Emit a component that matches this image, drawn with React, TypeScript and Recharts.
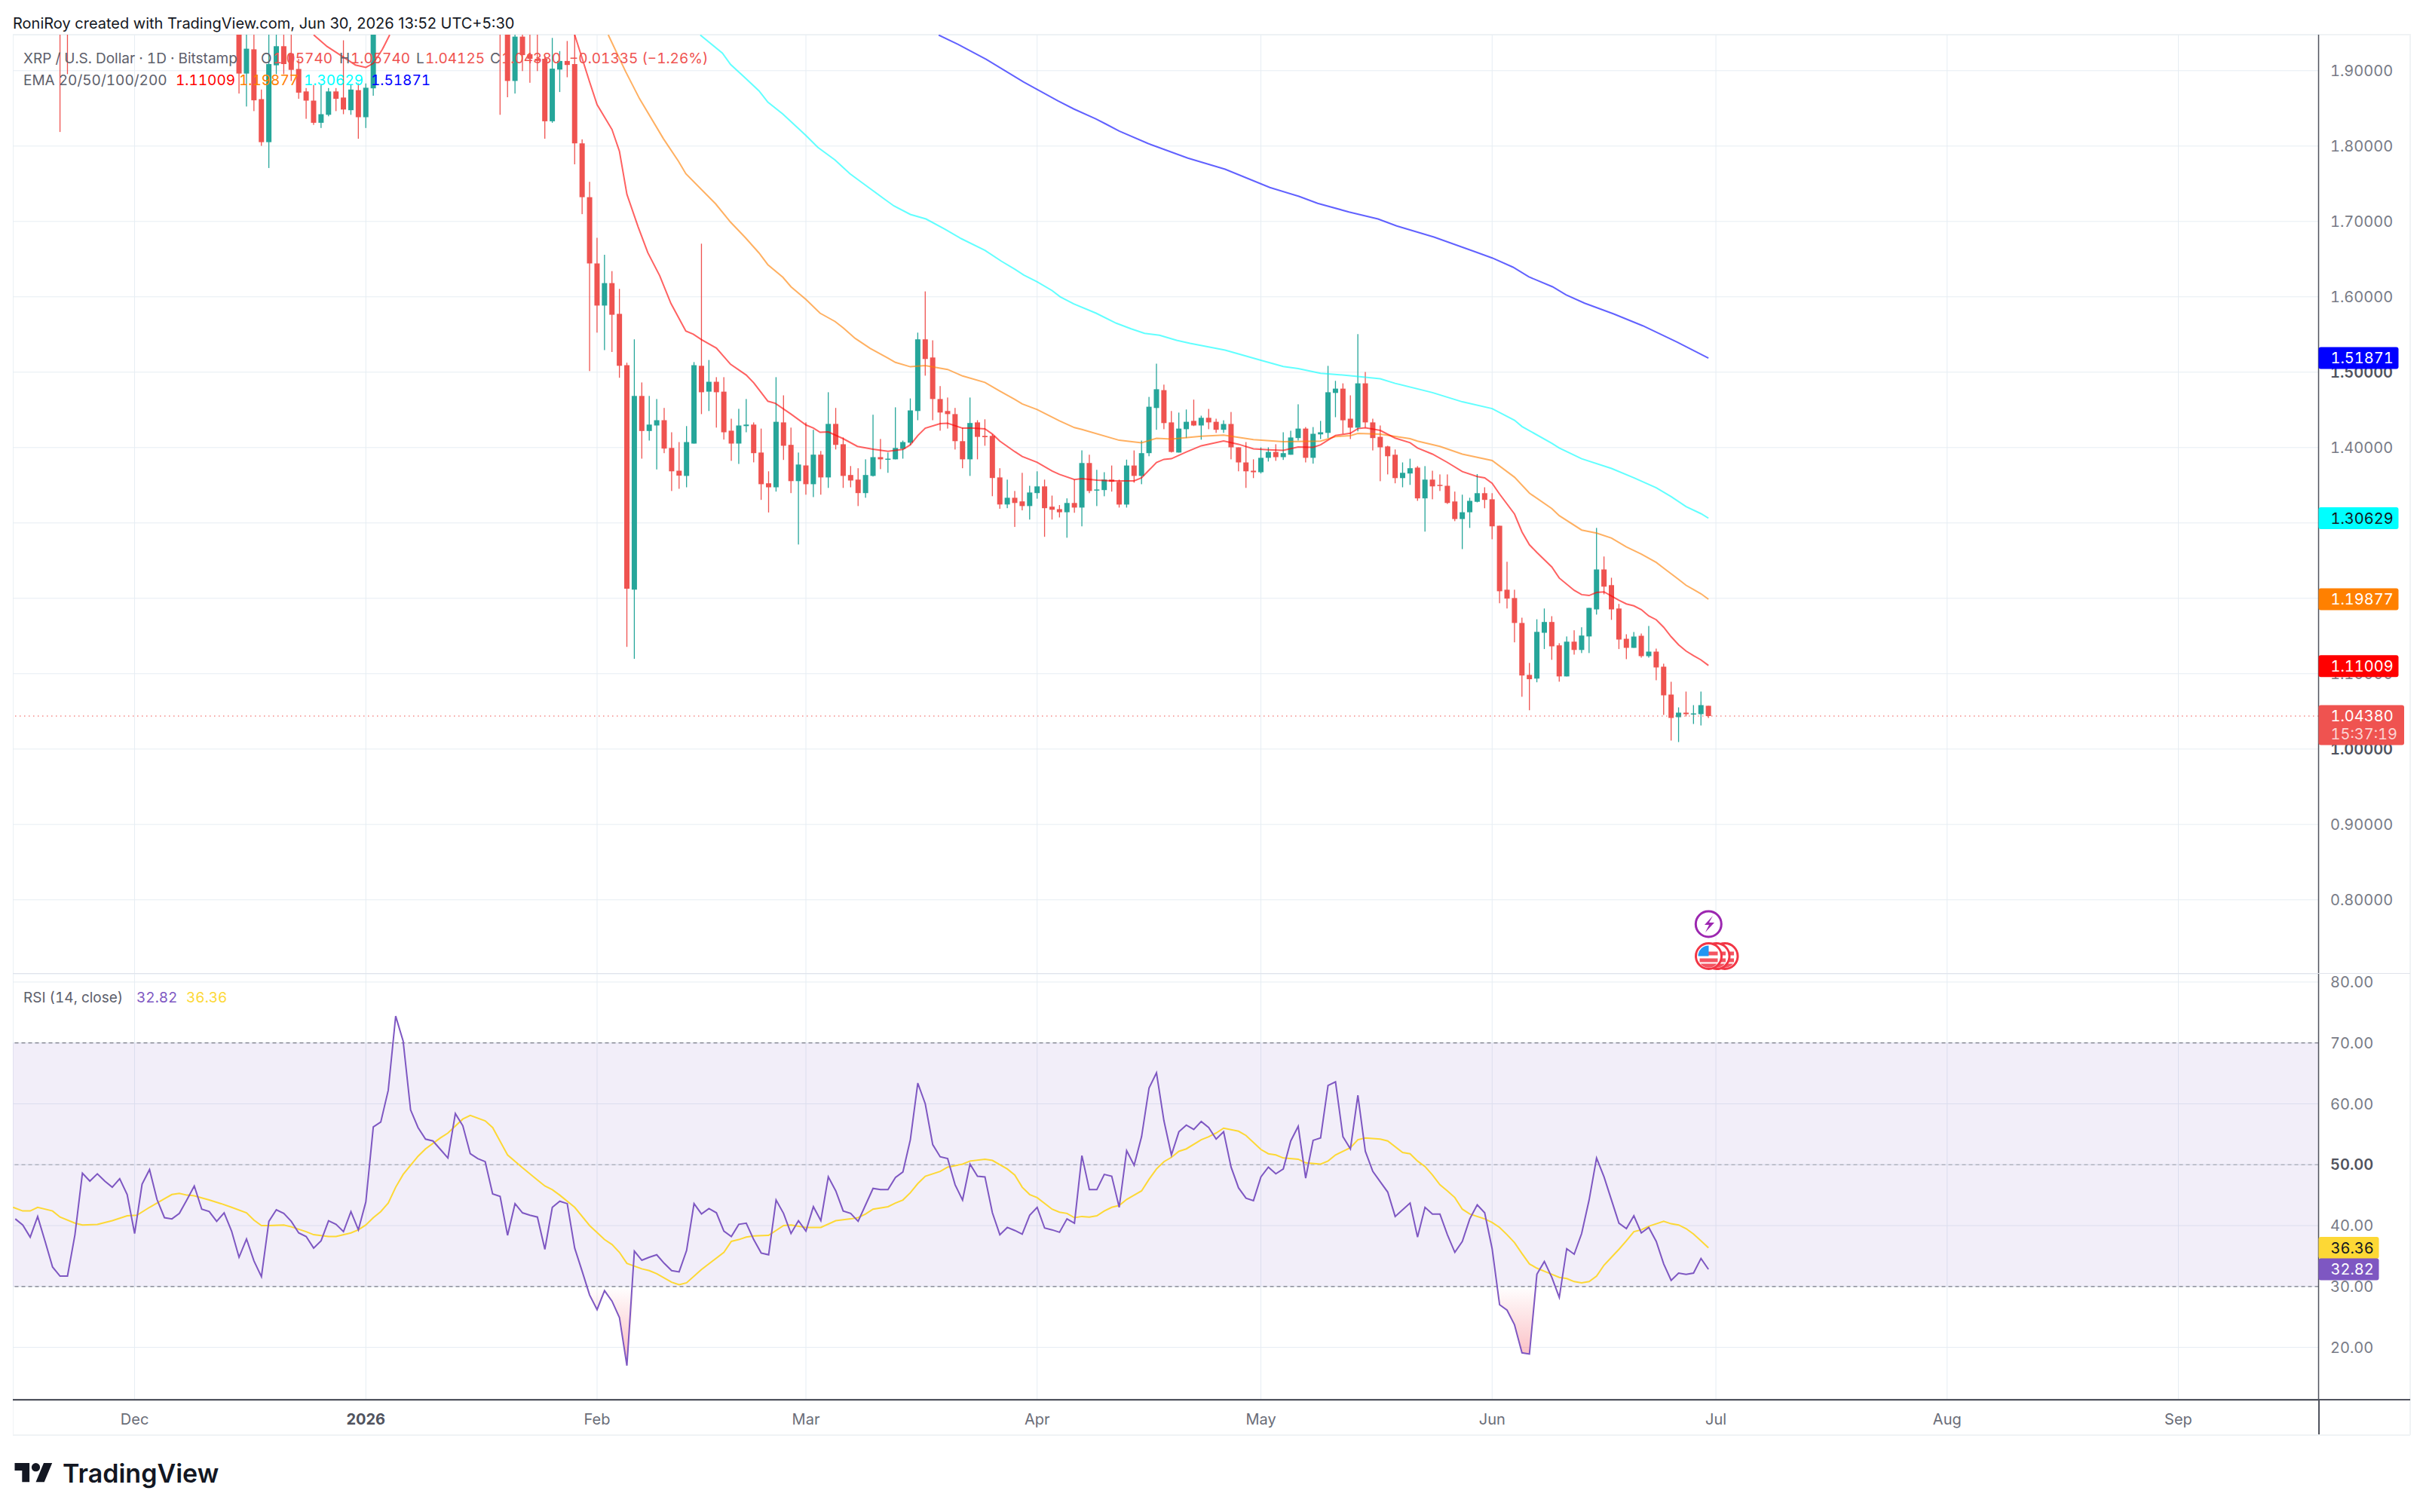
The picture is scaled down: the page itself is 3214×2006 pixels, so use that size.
import React from "react";
import {
  ComposedChart, Bar, Line, Area, XAxis, YAxis, CartesianGrid,
  ReferenceLine, ReferenceArea, ReferenceDot,
} from "recharts";

// day = days since 1 Jan 2026. rows: [day, open, high, low, close]
const barsNovDec = [
  [-41, 2.03, 2.05, 1.8187, 2.0], [-40, 2.03, 2.05, 1.8954, 2.0],
  [-17, 1.96, 2.0, 1.8697, 1.8962], [-16, 1.8962, 2.0, 1.8525, 1.9292], [-15, 1.9284, 1.97, 1.8464, 1.8607],
  [-14, 1.8623, 1.875, 1.8003, 1.8052], [-13, 1.8052, 1.96, 1.7709, 1.9088], [-12, 1.9072, 1.96, 1.8954, 1.9325],
  [-11, 1.9325, 1.96, 1.8954, 1.9088], [-10, 1.9227, 1.96, 1.8864, 1.9011], [-9, 1.9023, 1.9158, 1.8627, 1.8709],
  [-8, 1.8725, 1.877, 1.8362, 1.8603], [-7, 1.8603, 1.8811, 1.8281, 1.8309], [-6, 1.8309, 1.8811, 1.824, 1.8423],
  [-5, 1.8415, 1.877, 1.8395, 1.8725], [-4, 1.8725, 1.877, 1.8464, 1.8627], [-3, 1.8644, 1.9403, 1.8423, 1.8485],
  [-2, 1.8476, 1.8811, 1.8415, 1.875], [-1, 1.8742, 1.8831, 1.8097, 1.8383],
];
const barsJanuary = [
  [0, 1.8383, 1.8831, 1.824, 1.8774], [1, 1.8766, 2.02, 1.8668, 2.0],
  [18, 2.03, 2.05, 1.8415, 1.97], [19, 2.0, 2.02, 1.8648, 1.8864], [20, 1.8864, 1.96, 1.8697, 1.9452],
  [21, 1.9452, 1.97, 1.8995, 1.9207], [22, 1.9219, 1.96, 1.884, 1.9158], [23, 1.9158, 1.96, 1.8995, 1.913],
  [24, 1.9158, 1.92, 1.8097, 1.8329], [25, 1.8329, 1.9435, 1.8309, 1.9027], [26, 1.9015, 1.926, 1.8717, 1.9129],
  [27, 1.9129, 1.9394, 1.8913, 1.9076], [28, 1.9088, 1.96, 1.7758, 1.8036], [29, 1.8036, 1.8089, 1.7097, 1.7322],
  [30, 1.7322, 1.7526, 1.5015, 1.6443],
];
const barsFebruary = [
  [31, 1.6443, 1.6783, 1.5525, 1.5884], [32, 1.5884, 1.6558, 1.5293, 1.6182], [33, 1.6182, 1.6341, 1.5268, 1.5762],
  [34, 1.5774, 1.6105, 1.4926, 1.5085], [35, 1.5093, 1.5126, 1.1356, 1.2127], [36, 1.2115, 1.5436, 1.1197, 1.4685],
  [37, 1.4685, 1.4864, 1.3853, 1.422], [38, 1.422, 1.4685, 1.4093, 1.4305], [39, 1.4293, 1.4644, 1.371, 1.4363],
  [40, 1.4363, 1.4526, 1.3926, 1.3987], [41, 1.3995, 1.4203, 1.3424, 1.3685], [42, 1.3693, 1.4073, 1.3453, 1.3628],
  [43, 1.3624, 1.4285, 1.3473, 1.4073], [44, 1.4053, 1.5134, 1.4053, 1.5093], [45, 1.5085, 1.6705, 1.4444, 1.4734],
  [46, 1.4742, 1.5162, 1.4485, 1.4873], [47, 1.4873, 1.4934, 1.4265, 1.4734], [48, 1.4742, 1.4934, 1.4106, 1.4203],
  [49, 1.4224, 1.4383, 1.3824, 1.4053], [50, 1.4053, 1.4514, 1.3783, 1.4293], [51, 1.4285, 1.4644, 1.4203, 1.4305],
  [52, 1.4305, 1.4334, 1.3804, 1.3926], [53, 1.3934, 1.4252, 1.3306, 1.3514], [54, 1.3526, 1.3685, 1.3139, 1.3473],
  [55, 1.3473, 1.4934, 1.3416, 1.4342], [56, 1.4334, 1.4693, 1.3836, 1.4024], [57, 1.4036, 1.4265, 1.3396, 1.3555],
  [58, 1.3555, 1.3934, 1.2714, 1.3775],
];
const barsMarch = [
  [59, 1.3763, 1.4334, 1.3375, 1.3514], [60, 1.3514, 1.4236, 1.3343, 1.3906], [61, 1.3906, 1.3955, 1.3375, 1.3604],
  [62, 1.3604, 1.4734, 1.3465, 1.4314], [63, 1.4314, 1.4526, 1.3975, 1.4036], [64, 1.4044, 1.4134, 1.3465, 1.3624],
  [65, 1.3636, 1.3755, 1.3473, 1.3563], [66, 1.3575, 1.3726, 1.3224, 1.3396], [67, 1.3396, 1.3844, 1.3334, 1.3636],
  [68, 1.3624, 1.4436, 1.3616, 1.3873], [69, 1.3873, 1.4114, 1.3714, 1.3844], [70, 1.3844, 1.3934, 1.3665, 1.3853],
  [71, 1.3844, 1.4534, 1.3844, 1.3995], [72, 1.3983, 1.4093, 1.3853, 1.4073], [73, 1.4065, 1.4652, 1.4036, 1.4493],
  [74, 1.4485, 1.5525, 1.4363, 1.5436], [75, 1.5436, 1.6072, 1.4954, 1.5175], [76, 1.5195, 1.5423, 1.4363, 1.4644],
  [77, 1.4644, 1.4816, 1.4224, 1.4465], [78, 1.4485, 1.4664, 1.4252, 1.4444], [79, 1.4444, 1.4526, 1.3974, 1.4085],
  [80, 1.4085, 1.4265, 1.3726, 1.3844], [81, 1.3844, 1.4664, 1.3624, 1.4326], [82, 1.4334, 1.4363, 1.3844, 1.4142],
  [83, 1.4155, 1.4375, 1.4024, 1.4138], [84, 1.4155, 1.4175, 1.3355, 1.3596], [85, 1.3604, 1.3726, 1.3188, 1.3245],
  [86, 1.3245, 1.3575, 1.3196, 1.3334], [87, 1.3334, 1.3424, 1.2947, 1.3265], [88, 1.3286, 1.3665, 1.3167, 1.3224],
  [89, 1.3224, 1.3493, 1.3045, 1.3404],
];
const barsApril = [
  [90, 1.3396, 1.3685, 1.3322, 1.3485], [91, 1.3485, 1.3575, 1.2816, 1.3196], [92, 1.3216, 1.3363, 1.3045, 1.3175],
  [93, 1.3183, 1.3237, 1.3073, 1.3142], [94, 1.3142, 1.3326, 1.2804, 1.3265], [95, 1.3265, 1.3575, 1.3135, 1.3204],
  [96, 1.3204, 1.3963, 1.2955, 1.3795], [97, 1.3795, 1.3905, 1.3395, 1.3424], [98, 1.344, 1.3705, 1.3224, 1.3444],
  [99, 1.3436, 1.3673, 1.3354, 1.3575], [100, 1.3575, 1.3762, 1.3416, 1.3546], [101, 1.3546, 1.3575, 1.3204, 1.3244],
  [102, 1.3244, 1.384, 1.3204, 1.3762], [103, 1.3762, 1.3962, 1.3534, 1.3624], [104, 1.3624, 1.4093, 1.3514, 1.3926],
  [105, 1.3926, 1.4672, 1.3885, 1.4542], [106, 1.4525, 1.5113, 1.4236, 1.4774], [107, 1.4762, 1.4835, 1.4244, 1.4325],
  [108, 1.4334, 1.4485, 1.3934, 1.3942], [109, 1.3934, 1.4464, 1.3934, 1.4252], [110, 1.4244, 1.4505, 1.4126, 1.4342],
  [111, 1.4354, 1.4636, 1.4285, 1.4293], [112, 1.4293, 1.4423, 1.4105, 1.4395], [113, 1.4395, 1.4513, 1.4244, 1.4334],
  [114, 1.4342, 1.4383, 1.4195, 1.4236], [115, 1.4236, 1.4362, 1.4195, 1.4313], [116, 1.4313, 1.4472, 1.3844, 1.4003],
  [117, 1.4003, 1.4003, 1.3685, 1.3803], [118, 1.3803, 1.4073, 1.3465, 1.3685], [119, 1.3693, 1.3844, 1.3595, 1.3673],
];
const barsMay = [
  [120, 1.3673, 1.4003, 1.3656, 1.3864], [121, 1.3864, 1.4003, 1.3815, 1.3942], [122, 1.3942, 1.4044, 1.3824, 1.3873],
  [123, 1.3873, 1.4203, 1.3836, 1.3926], [124, 1.3905, 1.4223, 1.3905, 1.4134], [125, 1.4126, 1.4574, 1.4093, 1.4252],
  [126, 1.4252, 1.4272, 1.3803, 1.3864], [127, 1.3864, 1.4272, 1.3787, 1.4183], [128, 1.4175, 1.4354, 1.4113, 1.4203],
  [129, 1.4195, 1.5084, 1.4126, 1.4734], [130, 1.4725, 1.4885, 1.4403, 1.4782], [131, 1.4782, 1.4852, 1.4183, 1.4362],
  [132, 1.4383, 1.4693, 1.4113, 1.4264], [133, 1.4264, 1.5505, 1.4215, 1.4852], [134, 1.4852, 1.5003, 1.4264, 1.4334],
  [135, 1.4334, 1.4383, 1.3962, 1.4126], [136, 1.4142, 1.4293, 1.3554, 1.4003], [137, 1.4015, 1.4024, 1.3644, 1.3885],
  [138, 1.3905, 1.3975, 1.3526, 1.3595], [139, 1.3595, 1.3803, 1.3473, 1.3665], [140, 1.3656, 1.3852, 1.3505, 1.3726],
  [141, 1.3734, 1.3754, 1.3293, 1.3326], [142, 1.3326, 1.3754, 1.2885, 1.3575], [143, 1.3575, 1.3693, 1.3314, 1.3485],
  [144, 1.3505, 1.3644, 1.3424, 1.3493], [145, 1.3493, 1.3644, 1.3252, 1.3265], [146, 1.3285, 1.3416, 1.3024, 1.3052],
  [147, 1.3052, 1.3375, 1.2653, 1.3142], [148, 1.3142, 1.3334, 1.2934, 1.3293], [149, 1.3281, 1.3648, 1.3273, 1.3395],
  [150, 1.3395, 1.3473, 1.3195, 1.3306],
];
const barsJune = [
  [151, 1.3314, 1.3395, 1.2783, 1.2955], [152, 1.2963, 1.2963, 1.1935, 1.2094], [153, 1.2114, 1.2485, 1.1865, 1.1996],
  [154, 1.2004, 1.2114, 1.1416, 1.1673], [155, 1.1673, 1.1743, 1.0694, 1.0976], [156, 1.0984, 1.1143, 1.0515, 1.0927],
  [157, 1.0935, 1.1722, 1.0886, 1.1555], [158, 1.1543, 1.1865, 1.1327, 1.1686], [159, 1.1686, 1.1763, 1.1184, 1.1363],
  [160, 1.1376, 1.1404, 1.0894, 1.0964], [161, 1.0964, 1.1494, 1.0964, 1.1425], [162, 1.1425, 1.1576, 1.1253, 1.1315],
  [163, 1.1315, 1.1616, 1.1274, 1.1506], [164, 1.1494, 1.1873, 1.1274, 1.1873], [165, 1.1853, 1.2934, 1.1784, 1.2383],
  [166, 1.2383, 1.2555, 1.2053, 1.2155], [167, 1.2175, 1.2273, 1.1714, 1.1853], [168, 1.1865, 1.1926, 1.1327, 1.1453],
  [169, 1.1463, 1.1523, 1.1193, 1.1343], [170, 1.1343, 1.1553, 1.1343, 1.1493], [171, 1.1503, 1.1533, 1.1213, 1.1233],
  [172, 1.1233, 1.1633, 1.1213, 1.1293], [173, 1.1293, 1.1333, 1.0913, 1.1083], [174, 1.1093, 1.1133, 1.0453, 1.0713],
  [175, 1.0723, 1.0893, 1.0113, 1.0413], [176, 1.0423, 1.0553, 1.0093, 1.0483], [177, 1.0483, 1.0763, 1.0433, 1.0463],
  [178, 1.0463, 1.0583, 1.0333, 1.0473], [179, 1.0463, 1.0763, 1.0313, 1.0583], [180, 1.0574, 1.0574, 1.04125, 1.0438],
];

// moving averages: [day, value]; null where the line is above the pane
const ema20Points = [
  [-7, 1.9476], [-5.2, 1.9321], [-3.3, 1.9199], [-1.4, 1.9076], [0, 1.9044], [1, 1.9097], [2.2, 1.928], [3.2, 1.9476], [15, null],
  [28, 1.9476], [30, 1.885], [31, 1.855], [33, 1.822], [34, 1.793], [35, 1.736], [36.5, 1.693], [37.8, 1.6586], [39.4, 1.628], [40.9, 1.5913],
  [42.9, 1.5546], [43.9, 1.5505], [45, 1.5432], [47, 1.532], [48.9, 1.5105], [51, 1.4962], [52, 1.486], [53.9, 1.4615], [54.9, 1.4587],
  [57, 1.4444], [59, 1.43], [60, 1.426], [60.9, 1.4203], [62, 1.4207], [64, 1.4118], [65.9, 1.4016], [68, 1.3979], [70, 1.395], [72, 1.3975],
  [73, 1.4036], [74, 1.4159], [75, 1.4257], [77, 1.4318], [78, 1.4322], [80, 1.4257], [81, 1.4261], [83, 1.4248], [84, 1.4179], [85, 1.4085],
  [87, 1.3946], [88, 1.3881], [90, 1.3804], [92, 1.3689], [93, 1.3644], [95, 1.3575], [96, 1.3587], [98, 1.3567], [100, 1.3558], [103, 1.3558],
  [104, 1.3599], [106, 1.3803], [107, 1.3844], [108, 1.3852], [110, 1.3942], [112, 1.4024], [115, 1.4089], [117, 1.4044], [119, 1.3983],
  [121, 1.3971], [123, 1.3962], [125, 1.4007], [127, 1.4003], [128, 1.4036], [130, 1.4162], [132, 1.419], [133, 1.4252], [134, 1.4264],
  [136, 1.4228], [138, 1.4126], [140, 1.4064], [141, 1.3995], [143, 1.3913], [145, 1.3803], [147, 1.3681], [149, 1.3615], [150, 1.3599],
  [151, 1.3526], [152, 1.3383], [154, 1.3118], [155, 1.2881], [156, 1.271], [157, 1.2608], [159, 1.2416], [160, 1.2269], [162, 1.2106],
  [163, 1.2049], [164, 1.2037], [165, 1.2077], [166, 1.2086], [168, 1.1975], [169, 1.1926], [170, 1.19], [171, 1.185], [172, 1.1766],
  [173, 1.1716], [174, 1.1616], [175, 1.149], [176, 1.1383], [177, 1.13], [178, 1.124], [179, 1.1183], [180, 1.1109],
];
const ema50Points = [
  [32.5, 1.9476], [34.8, 1.8994], [36.7, 1.8627], [39.9, 1.8097], [41.9, 1.78], [42.9, 1.7633], [46.9, 1.7233], [48.9, 1.699], [50.9, 1.6783],
  [52.7, 1.6583], [53.9, 1.6426], [55.9, 1.626], [57, 1.6133], [59, 1.5966], [60.9, 1.5783], [62.9, 1.5673], [64, 1.5589], [65.6, 1.5449],
  [67.6, 1.5316], [70, 1.5187], [71, 1.513], [73, 1.5072], [75, 1.5089], [78, 1.5036], [80, 1.495], [83, 1.4864], [85, 1.475], [87, 1.464],
  [88, 1.4579], [90, 1.4505], [93, 1.4354], [95, 1.4265], [96, 1.424], [101, 1.4097], [104, 1.4064], [106, 1.4122], [108, 1.4113], [112, 1.415],
  [115, 1.4166], [119, 1.4105], [123, 1.4077], [128, 1.4085], [130, 1.4146], [132, 1.4158], [133, 1.4187], [136, 1.4179], [140, 1.4117],
  [141, 1.4085], [144, 1.4015], [147, 1.3913], [151, 1.3828], [154, 1.3607], [156, 1.3395], [159, 1.3191], [160, 1.3097], [163, 1.2906],
  [165, 1.2865], [167, 1.28], [169, 1.2681], [171, 1.2587], [173, 1.2476], [174, 1.24], [175, 1.2326], [176, 1.225], [177, 1.2173], [178, 1.2116],
  [179, 1.206], [180, 1.19877],
];
const ema100Points = [
  [44.84, 1.9473], [47.8, 1.9233], [48.9, 1.9083], [50.9, 1.89], [52.7, 1.8733], [53.9, 1.8583], [55.9, 1.8426], [59, 1.814], [60.6, 1.7983],
  [62.9, 1.7816], [64.9, 1.7633], [67.2, 1.7466], [69.4, 1.7306], [70.8, 1.7206], [73, 1.7093], [75.1, 1.7033], [77.6, 1.69], [79.8, 1.6773],
  [83, 1.6616], [85.2, 1.6473], [87, 1.6366], [88.2, 1.629], [90, 1.62], [92, 1.6083], [93.1, 1.6], [94.9, 1.5906], [97.9, 1.5783], [100.6, 1.565],
  [102.6, 1.5576], [104.4, 1.5516], [106.4, 1.549], [108.7, 1.5423], [110.5, 1.5383], [115.2, 1.5293], [120, 1.5158], [123, 1.5076], [125, 1.5048],
  [128, 1.4986], [132, 1.4954], [136, 1.4913], [138, 1.4852], [143, 1.4729], [147, 1.4607], [151, 1.4517], [154, 1.4362], [155, 1.428], [159, 1.4056],
  [160, 1.3995], [163, 1.3852], [167, 1.3723], [170, 1.36], [173, 1.3466], [175, 1.335], [177, 1.3216], [179, 1.3123], [180, 1.30629],
];
const ema200Points = [
  [76.8, 1.9473], [79.4, 1.935], [83.2, 1.915], [88.2, 1.885], [92.8, 1.86], [94.9, 1.8493], [97.9, 1.836], [99.2, 1.8293], [101, 1.82], [104.9, 1.8033],
  [110.2, 1.784], [115.2, 1.7693], [121.2, 1.745], [125.1, 1.7333], [127.6, 1.724], [131.8, 1.7126], [135.7, 1.7033], [138.2, 1.694], [143.2, 1.6793],
  [148.5, 1.6606], [151, 1.6516], [153.8, 1.6393], [155.9, 1.6266], [159.1, 1.6133], [160.9, 1.6026], [163.4, 1.5916], [167.3, 1.5773], [171.2, 1.5616],
  [175.8, 1.54], [180, 1.51871],
];

const rsiFirstDay = -47;
const rsiValues = [
  41.1, 40.1, 38.1, 41.5, 37.4, 33.2, 31.7, 31.7, 38.5, 48.6, 47.3, 48.5, 47.3, 46.3, 47.7, 45.1, 38.7, 46.8, 49.2, 44.3,
  41.3, 41.1, 42, 44.2, 46.5, 42.7, 42.3, 40.7, 42.1, 39.1, 34.8, 37.8, 34.2, 31.6, 40.7, 42.6, 42, 40.7, 38.8, 38.2,
  36.3, 37.5, 40.8, 40.2, 39, 42.3, 39.3, 43.9, 56.2, 57, 62.2, 74.4, 70.3, 59, 56.1, 54.2, 53.9, 52.5, 51.1, 58.4,
  56.4, 51.8, 51, 50.5, 45.2, 44.8, 38.4, 43.6, 42.1, 41.7, 41.4, 36.1, 43, 44, 43.6, 36.3, 32.5, 28.6, 26.2, 29.3,
  27.6, 24.9, 17, 35.8, 34.3, 34.8, 35.2, 33.8, 32.6, 32.4, 35.9, 43.6, 41.9, 42.8, 42.1, 39.1, 38.2, 40.2, 40.4, 37.7,
  35.5, 35.2, 44.2, 42, 38.7, 40.8, 39.1, 43.1, 40.8, 48, 45.7, 42.4, 42, 40.7, 43.4, 46.1, 45.9, 45.9, 47.9, 48.8,
  54.1, 63.4, 60, 53.3, 51.3, 51, 46.7, 44.2, 50.1, 48.1, 48, 42.1, 38.5, 39.7, 39.2, 38.6, 41.7, 43, 39.6, 39.3,
  38.9, 41.1, 40.4, 51.5, 45.9, 45.9, 48.4, 48.1, 43, 52.3, 49.9, 54.6, 62.6, 65.1, 57.2, 51.6, 55.4, 56.5, 55.8, 57.1,
  56.1, 54.2, 55.4, 49.6, 46.2, 44.5, 44.1, 48, 49.6, 48.5, 49.3, 53.9, 56.3, 47.8, 54, 54.4, 63, 63.6, 54.6, 52.6,
  61.4, 52.2, 48.9, 47.2, 45.5, 41.5, 42.6, 43.7, 38.1, 43, 41.9, 41.9, 38.5, 35.6, 37.4, 41.1, 43.4, 42.1, 36.2, 27,
  26.1, 23.7, 19.1, 18.9, 32, 34.1, 31.5, 28.2, 36.2, 35.3, 38.7, 44.2, 51.1, 48, 44.2, 40.4, 39.5, 41.6, 38.8, 39.7,
  37.4, 33.7, 31, 32.2, 32, 32.2, 34.6, 32.82,
];
const rsiMaPoints = [
  [-47.3, 43], [-46, 42.4], [-45, 42.4], [-44, 43], [-42, 42.4], [-41, 41.4], [-39, 40.4], [-38, 40.1], [-36, 40.2], [-34, 40.8], [-32, 41.6], [-30.7, 41.7],
  [-29, 43], [-27, 44.4], [-26, 45.1], [-25, 45.3], [-24, 45], [-23, 44.9], [-21, 44.2], [-19.4, 43.6], [-18, 43], [-16, 42.1], [-15, 40.9], [-14, 40],
  [-13, 40], [-11, 40.1], [-10, 39.8], [-8, 39], [-7, 38.5], [-5, 38.2], [-4, 38.2], [-2, 38.8], [-1, 39.3], [0, 40.1], [1, 41.3], [2, 42.3], [3, 43.7],
  [4, 46.3], [5, 48.4], [7, 51.4], [8, 52.6], [10, 54.4], [11, 55.2], [13, 57.5], [14, 58.1], [16, 57.2], [17, 56.1], [19, 51.6], [21, 49.5], [23, 47.5],
  [24, 46.5], [25, 45.9], [26, 45], [28, 43], [30, 40], [32, 37.7], [33, 36.9], [34, 35.6], [35, 33.8], [37, 32.9], [38, 32.6], [39, 32.1], [41, 30.7],
  [42, 30.3], [43, 30.6], [45, 32.8], [48, 35.6], [49, 37.4], [50, 37.7], [51, 38.1], [52, 38.3], [54, 38.4], [55, 39.2], [56, 40], [57, 40.1], [59, 39.7],
  [61, 39.7], [63, 40.8], [65, 41.1], [66, 41.3], [67, 41.9], [68, 42.7], [70, 43.1], [71, 43.7], [72, 44.2], [73, 45.4], [74, 46.9], [75, 48.1], [77, 48.9],
  [78, 49.6], [80, 50.1], [81, 50.6], [83, 50.9], [84, 50.7], [86, 49.3], [87, 48.3], [88, 46.3], [89, 45.1], [90, 44.6], [92, 42.7], [93, 42.2], [94, 42],
  [95, 41.3], [96, 41.5], [97, 41.4], [98, 41.6], [99, 42.4], [100, 43], [101, 43.3], [102, 44.3], [103, 45], [104, 45.7], [105, 47.6], [106, 49.3], [107, 50.5],
  [108, 51.2], [109, 52.2], [110, 52.6], [112, 54.1], [113, 54.6], [114, 55.2], [115, 56], [117, 55.5], [118, 54.8], [120, 52.5], [121, 51.8], [122, 51.6],
  [123, 51.1], [125, 50.9], [126, 50.3], [128, 50.1], [129, 50.6], [130, 51.6], [132, 52.8], [133, 54.1], [134, 54.4], [136, 54.2], [137, 53.9], [139, 52],
  [140, 51.8], [141, 50.6], [142, 49.7], [143, 48.3], [144, 46.7], [145, 45.7], [146, 44.6], [147, 42.7], [148, 41.9], [150, 41.1], [151, 40.5], [152, 39.7],
  [153, 38.5], [154, 37.2], [155, 35.4], [156, 33.7], [157, 33], [158, 32.5], [159, 32], [160, 31.5], [161, 31.3], [162, 30.8], [163, 30.6], [164, 30.8],
  [165, 31.7], [166, 33.5], [167, 34.8], [168, 36.1], [169, 37.5], [170, 39], [171, 39.3], [172, 39.9], [173, 40.3], [174, 40.7], [175, 40.3], [176, 40.1],
  [177, 39.5], [178, 38.6], [179, 37.5], [180, 36.36],
];

const monthTicks = [-31, 0, 31, 59, 90, 120, 151, 181, 212, 243];
const monthLabels = ["Dec", "2026", "Feb", "Mar", "Apr", "May", "Jun", "Jul", "Aug", "Sep"];
const priceTicks = [0.8, 0.9, 1.0, 1.1, 1.2, 1.3, 1.4, 1.5, 1.6, 1.7, 1.8, 1.9];
const coveredPriceTicks = [1.2, 1.3]; // sit wholly behind the 1.19877 and 1.30629 tags
const rsiTicks = [20, 30, 40, 50, 60, 70, 80];
const emaTags = [
  { value: 1.51871, color: "#0000ff", text: "#ffffff" },
  { value: 1.30629, color: "#00ffff", text: "#131722" },
  { value: 1.19877, color: "#ff8000", text: "#ffffff" },
  { value: 1.11009, color: "#ff0000", text: "#ffffff" },
];
const lastPrice = 1.0438;
const rsiTags = [
  { value: 36.36, color: "#fdd835", text: "#131722", label: "36.36" },
  { value: 32.82, color: "#7e57c2", text: "#ffffff", label: "32.82" },
];

const UP = "#26a69a";
const DOWN = "#ef5350";
const GRID = "#e6edf3";
const AXIS = "#50535e";
const FONT = "Inter, sans-serif";
const TNUM = { fontVariantNumeric: "tabular-nums" };
const X_DOMAIN = [-47.33, 261.8];
const PRICE_DOMAIN = [0.7018, 1.9478];
const RSI_DOMAIN = [11.34, 81.35];
const NO_MARGIN = { top: 0, right: 0, bottom: 0, left: 0 };

const candles = [...barsNovDec, ...barsJanuary, ...barsFebruary, ...barsMarch, ...barsApril, ...barsMay, ...barsJune].map(
  ([d, o, h, l, c]) => ({ d, o, c, range: [Math.min(l, o, c), Math.max(h, o, c)] })
);
const toPoints = (list: any[]) => list.map(([d, v]) => ({ d, v }));
const rsiRows = rsiValues.map((v, i) => ({ d: i + rsiFirstDay, rsi: v, under: [Math.min(v, 30), 30] }));

const Candle = (props: any) => {
  const { x, y, width, height, payload } = props;
  const [lo, hi] = payload.range;
  const perUnit = height / (hi - lo);
  const top = y + (hi - Math.max(payload.o, payload.c)) * perUnit;
  const bot = y + (hi - Math.min(payload.o, payload.c)) * perUnit;
  const color = payload.c >= payload.o ? UP : DOWN;
  const cx = x + width / 2;
  return (
    <g>
      <rect x={cx - 0.65} y={y} width={1.3} height={height} fill={color} />
      <rect x={cx - 3.5} y={top} width={7} height={Math.max(bot - top, 1.5)} fill={color} />
    </g>
  );
};

const AxisText = (bold: (v: number) => boolean, fmt: (v: number) => string, hidden: number[] = []) => (props: any) => {
  const { x, y, payload } = props;
  if (hidden.includes(payload.value)) return <g />;
  const b = bold(payload.value);
  return (
    <text x={x} y={y} dy="0.36em" textAnchor="start" fontFamily={FONT} fontSize={20} style={TNUM}
      fontWeight={b ? 600 : 400} fill={b ? AXIS : "#787b86"}>
      {fmt(payload.value)}
    </text>
  );
};

const TimeTick = (props: any) => {
  const { x, y, payload } = props;
  const label = monthLabels[monthTicks.indexOf(payload.value)];
  const b = label === "2026";
  return (
    <text x={x} y={y} dy="0.36em" textAnchor="middle" fontFamily={FONT} fontSize={20}
      fontWeight={b ? 700 : 400} fill={b ? AXIS : "#6a6d78"}>
      {label}
    </text>
  );
};

const Tag = ({ color, text, label, width }: any) => (props: any) => {
  const { cx, cy } = props;
  return (
    <g>
      <rect x={cx} y={cy - 14.5} width={width} height={29} rx={3} fill={color} />
      <text x={cx + 16} y={cy} dy="0.36em" fontFamily={FONT} fontSize={20} fill={text} style={TNUM}>{label}</text>
    </g>
  );
};

const LastTag = (props: any) => {
  const { cx, cy } = props;
  return (
    <g>
      <rect x={cx} y={cy - 14.5} width={113.5} height={53} rx={3} fill={DOWN} />
      <text x={cx + 16} y={cy} dy="0.36em" fontFamily={FONT} fontSize={20} fill="#ffffff" style={TNUM}>1.04380</text>
      <text x={cx + 16} y={cy + 24} dy="0.36em" fontFamily={FONT} fontSize={20} fill="#ffffff" fillOpacity={0.75} style={TNUM}>15:37:19</text>
    </g>
  );
};

const T = ({ x, y, color, size = 19, weight = 400, tnum = true, children }: any) => (
  <span style={{ position: "absolute", left: x, top: y, transform: "translateY(-50%)", color, fontSize: size, fontWeight: weight, fontFamily: FONT, whiteSpace: "nowrap", lineHeight: 1, ...(tnum ? TNUM : {}) }}>
    {children}
  </span>
);

const Box = ({ x, y, w, h, color }: any) => (
  <div style={{ position: "absolute", left: x, top: y, width: w, height: h, background: color }} />
);

const Flag = ({ cx, cy, detail }: any) => (
  <g>
    <circle cx={cx} cy={cy} r={17} fill="#fff" stroke="#f23645" strokeWidth={3} />
    <rect x={cx - 12} y={cy - 6} width={24} height={5} fill="#f23645" opacity={0.85} />
    <rect x={cx - 12} y={cy + 3} width={24} height={5} fill="#f23645" opacity={0.85} />
    <path d={`M${cx - 11} ${cy + 10}h22a14 14 0 0 1-22 0z`} fill="#f23645" opacity={0.85} />
    {detail && <path d={`M${cx - 14} ${cy}a14 14 0 0 1 14-14v14z`} fill="#2196f3" />}
  </g>
);

export default function App() {
  return (
    <div style={{ position: "absolute", left: 0, top: 0, width: 3214, height: 2006, background: "#fff", overflow: "hidden" }}>
      <T x={17} y={31} color="#131722" size={20} tnum={false}>RoniRoy created with TradingView.com, Jun 30, 2026 13:52 UTC+5:30</T>

      <Box x={17} y={44.5} w={3180} h={2} color="#f0f3f5" />
      <Box x={16.5} y={45} w={1.5} h={1859} color="#f0f3f5" />
      <Box x={3196} y={45} w={2} h={1859} color="#f0f3f5" />
      <Box x={17} y={1903} w={3180} h={2} color="#f0f3f5" />

      <div style={{ position: "absolute", left: 17, top: 45.5 }}>
        <ComposedChart width={3180} height={1246} data={candles} margin={NO_MARGIN}>
          <CartesianGrid stroke={GRID} strokeWidth={1} />
          <XAxis dataKey="d" type="number" scale="linear" domain={X_DOMAIN} ticks={monthTicks} interval={0} allowDataOverflow hide />
          <YAxis orientation="right" width={121.5} domain={PRICE_DOMAIN} ticks={priceTicks} interval={0} allowDataOverflow
            tickLine={false} tickSize={0} tickMargin={15.5} axisLine={{ stroke: AXIS, strokeWidth: 1.5 }}
            tick={AxisText((v) => v === 1 || v === 1.5, (v) => v.toFixed(5), coveredPriceTicks)} />
          <Bar dataKey="range" barSize={7} shape={Candle} isAnimationActive={false} />
          {[
            [ema200Points, "#0000ff"], [ema100Points, "#00ffff"], [ema50Points, "#ff8000"], [ema20Points, "#ff0000"],
          ].map(([pts, color]: any) => (
            <Line key={color} data={toPoints(pts)} dataKey="v" stroke={color} strokeOpacity={0.62} strokeWidth={2} dot={false} activeDot={false} type="linear" isAnimationActive={false} />
          ))}
          <ReferenceLine y={lastPrice} stroke={DOWN} strokeDasharray="1.5 4.5" strokeWidth={1.2} />
        </ComposedChart>
      </div>

      {/* a second, bare chart on the same scales, so the price tags lie above the axis labels */}
      <div style={{ position: "absolute", left: 17, top: 45.5 }}>
        <ComposedChart width={3180} height={1246} data={candles} margin={NO_MARGIN}>
          <XAxis dataKey="d" type="number" scale="linear" domain={X_DOMAIN} allowDataOverflow hide />
          <YAxis orientation="right" width={121.5} domain={PRICE_DOMAIN} allowDataOverflow tick={false} tickLine={false} axisLine={false} />
          {emaTags.map((t) => (
            <ReferenceDot key={t.color} x={X_DOMAIN[1]} y={t.value} ifOverflow="visible"
              shape={Tag({ color: t.color, text: t.text, label: t.value.toFixed(5), width: 106 })} />
          ))}
          <ReferenceDot x={X_DOMAIN[1]} y={lastPrice} ifOverflow="visible" shape={LastTag} />
        </ComposedChart>
      </div>

      <Box x={17} y={1291} w={3180} h={1.2} color="#e0e3eb" />

      <div style={{ position: "absolute", left: 17, top: 1291.5 }}>
        <ComposedChart width={3180} height={612} data={rsiRows} margin={NO_MARGIN}>
          <defs>
            <linearGradient id="oversold" x1="0" y1="0" x2="0" y2="1">
              <stop offset="0" stopColor="#f23645" stopOpacity={0} />
              <stop offset="1" stopColor="#f23645" stopOpacity={0.36} />
            </linearGradient>
          </defs>
          <CartesianGrid stroke={GRID} strokeWidth={1} />
          <XAxis dataKey="d" type="number" scale="linear" domain={X_DOMAIN} ticks={monthTicks} interval={0} allowDataOverflow height={46.5}
            tickLine={false} tickSize={0} tickMargin={25} axisLine={{ stroke: AXIS, strokeWidth: 1.5 }} tick={TimeTick} />
          <YAxis orientation="right" width={121.5} domain={RSI_DOMAIN} ticks={rsiTicks} interval={0} allowDataOverflow
            tickLine={false} tickSize={0} tickMargin={15.5} axisLine={{ stroke: AXIS, strokeWidth: 1.5 }}
            tick={AxisText((v) => v === 50, (v) => v.toFixed(2))} />
          <ReferenceArea y1={30} y2={70} fill="#7e57c2" fillOpacity={0.1} stroke="none" />
          <ReferenceLine y={70} stroke="#787b86" strokeDasharray="5 4" strokeWidth={1.2} />
          <ReferenceLine y={50} stroke="#787b86" strokeOpacity={0.7} strokeDasharray="5 4" strokeWidth={1} />
          <ReferenceLine y={30} stroke="#787b86" strokeDasharray="5 4" strokeWidth={1.2} />
          <Area dataKey="under" type="linear" stroke="none" fill="url(#oversold)" fillOpacity={1} dot={false} activeDot={false} isAnimationActive={false} />
          <Line data={toPoints(rsiMaPoints)} dataKey="v" stroke="#fdd835" strokeWidth={2} dot={false} activeDot={false} type="linear" isAnimationActive={false} />
          <Line dataKey="rsi" stroke="#7e57c2" strokeWidth={2} dot={false} activeDot={false} type="linear" isAnimationActive={false} />
        </ComposedChart>
      </div>

      <div style={{ position: "absolute", left: 17, top: 1291.5 }}>
        <ComposedChart width={3180} height={612} data={rsiRows} margin={NO_MARGIN}>
          <XAxis dataKey="d" type="number" scale="linear" domain={X_DOMAIN} allowDataOverflow height={46.5} tick={false} tickLine={false} axisLine={false} />
          <YAxis orientation="right" width={121.5} domain={RSI_DOMAIN} allowDataOverflow tick={false} tickLine={false} axisLine={false} />
          {rsiTags.map((t) => (
            <ReferenceDot key={t.label} x={X_DOMAIN[1]} y={t.value} ifOverflow="visible"
              shape={Tag({ color: t.color, text: t.text, label: t.label, width: 80 })} />
          ))}
        </ComposedChart>
      </div>

      <Box x={17} y={1856} w={3180} h={1.5} color={AXIS} />
      <Box x={3075} y={1856} w={1.5} h={47} color={AXIS} />

      <T x={31} y={77} color="#5d606b">XRP / U.S. Dollar · 1D · Bitstamp</T>
      <T x={346} y={77} color="#5d606b">O</T><T x={362} y={77} color={DOWN}>1.05740</T>
      <T x={450} y={77} color="#5d606b">H</T><T x={465} y={77} color={DOWN}>1.05740</T>
      <T x={552} y={77} color="#5d606b">L</T><T x={564} y={77} color={DOWN}>1.04125</T>
      <T x={650} y={77} color="#5d606b">C</T><T x={665} y={77} color={DOWN}>1.04380</T>
      <T x={755} y={77} color={DOWN}>−0.01335 (−1.26%)</T>
      <T x={31} y={106} color="#5d606b">EMA 20/50/100/200</T>
      <T x={233} y={106} color="#ff0000">1.11009</T>
      <T x={317} y={106} color="#ff8000">1.19877</T>
      <T x={403} y={106} color="#00ffff">1.30629</T>
      <T x={492} y={106} color="#0000ff">1.51871</T>
      <T x={31} y={1322.5} color="#5d606b">RSI (14, close)</T>
      <T x={181} y={1322.5} color="#7e57c2">32.82</T>
      <T x={247} y={1322.5} color="#fdd835">36.36</T>

      <svg style={{ position: "absolute", left: 0, top: 0 }} width={3214} height={2006}>
        <circle cx={2266.3} cy={1226} r={17} fill="#fff" stroke="#9c27b0" strokeWidth={3} />
        <path d="M2272 1215l-11 12h6l-5 10 12-13h-7z" fill="#9c27b0" />
        <Flag cx={2288} cy={1268.5} />
        <Flag cx={2277} cy={1268.5} />
        <Flag cx={2266.5} cy={1268.5} detail />
        <g transform="translate(19.5 1935.5) scale(1.4)" fill="#131722">
          <path d="M14 22H7V11H0V4h14v18zM28 22h-8l7.5-18h8L28 22z" />
          <circle cx="20" cy="8" r="4" />
        </g>
      </svg>
      <T x={83} y={1955} color="#131722" size={34} weight={600} tnum={false}>TradingView</T>
    </div>
  );
}
